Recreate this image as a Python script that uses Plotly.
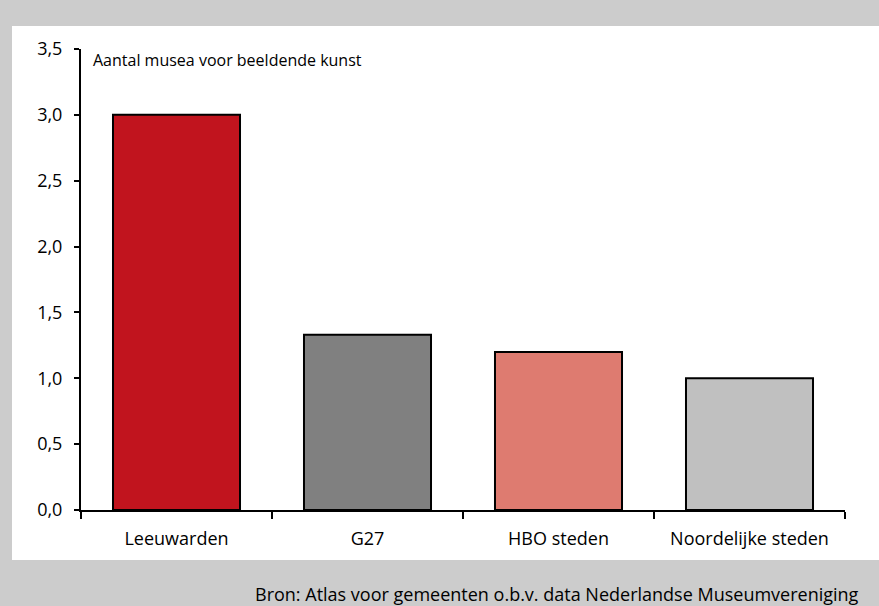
import plotly.graph_objects as go

categories = ["Leeuwarden", "G27", "HBO steden", "Noordelijke steden"]
values = [3.0, 1.33, 1.2, 1.0]
colors = ["#c1141e", "#808080", "#de7b70", "#c0c0c0"]
y_title = "Aantal musea voor beeldende kunst"
source = "Bron: Atlas voor gemeenten o.b.v. data Nederlandse Museumvereniging"

W, H = 879, 606
L, R, T, B = 81, 34, 49, 96
FONT = "Open Sans"

fig = go.Figure(go.Bar(
    x=categories, y=values, width=0.665,
    marker=dict(color=colors, line=dict(color="black", width=2)),
    hoverinfo="skip",
))

def px(x):
    return (x - L) / (W - L - R)

def py(y):
    return (H - B - y) / (H - T - B)

fig.update_layout(
    width=W, height=H,
    margin=dict(l=L, r=R, t=T, b=B, pad=0),
    paper_bgcolor="#cccccc", plot_bgcolor="white",
    separators=",.",
    showlegend=False,
    font=dict(family=FONT, size=17, color="black"),
    shapes=[dict(type="rect", xref="paper", yref="paper", layer="below",
                 x0=px(12), x1=px(W + 5), y0=py(560), y1=py(26),
                 fillcolor="white", line=dict(width=0))],
    annotations=[
        dict(text=y_title, xref="paper", yref="paper", x=px(91), y=py(60),
             xanchor="left", yanchor="middle", showarrow=False,
             font=dict(size=16, family=FONT)),
        dict(text=source, xref="paper", yref="paper", x=px(253), y=py(594),
             xanchor="left", yanchor="middle", showarrow=False,
             font=dict(size=18, family=FONT)),
    ],
)
fig.update_xaxes(
    type="category", range=[-0.5, 3.5], tickson="boundaries",
    showline=True, linecolor="black", linewidth=2,
    ticks="outside", ticklen=7, tickwidth=2, tickcolor="black",
    showgrid=False, zeroline=False, ticklabelstandoff=11,
    tickfont=dict(size=18),
)
fig.update_yaxes(
    range=[0, 3.5], dtick=0.5, tick0=0, tickformat=".1f",
    showline=True, linecolor="black", linewidth=2,
    ticks="outside", ticklen=5, tickwidth=2, tickcolor="black",
    showgrid=False, zeroline=False, ticklabelstandoff=8,
    tickfont=dict(size=18),
)

fig.write_html("out.html", config={"displayModeBar": False},
               post_script="document.body.style.margin='0';")
